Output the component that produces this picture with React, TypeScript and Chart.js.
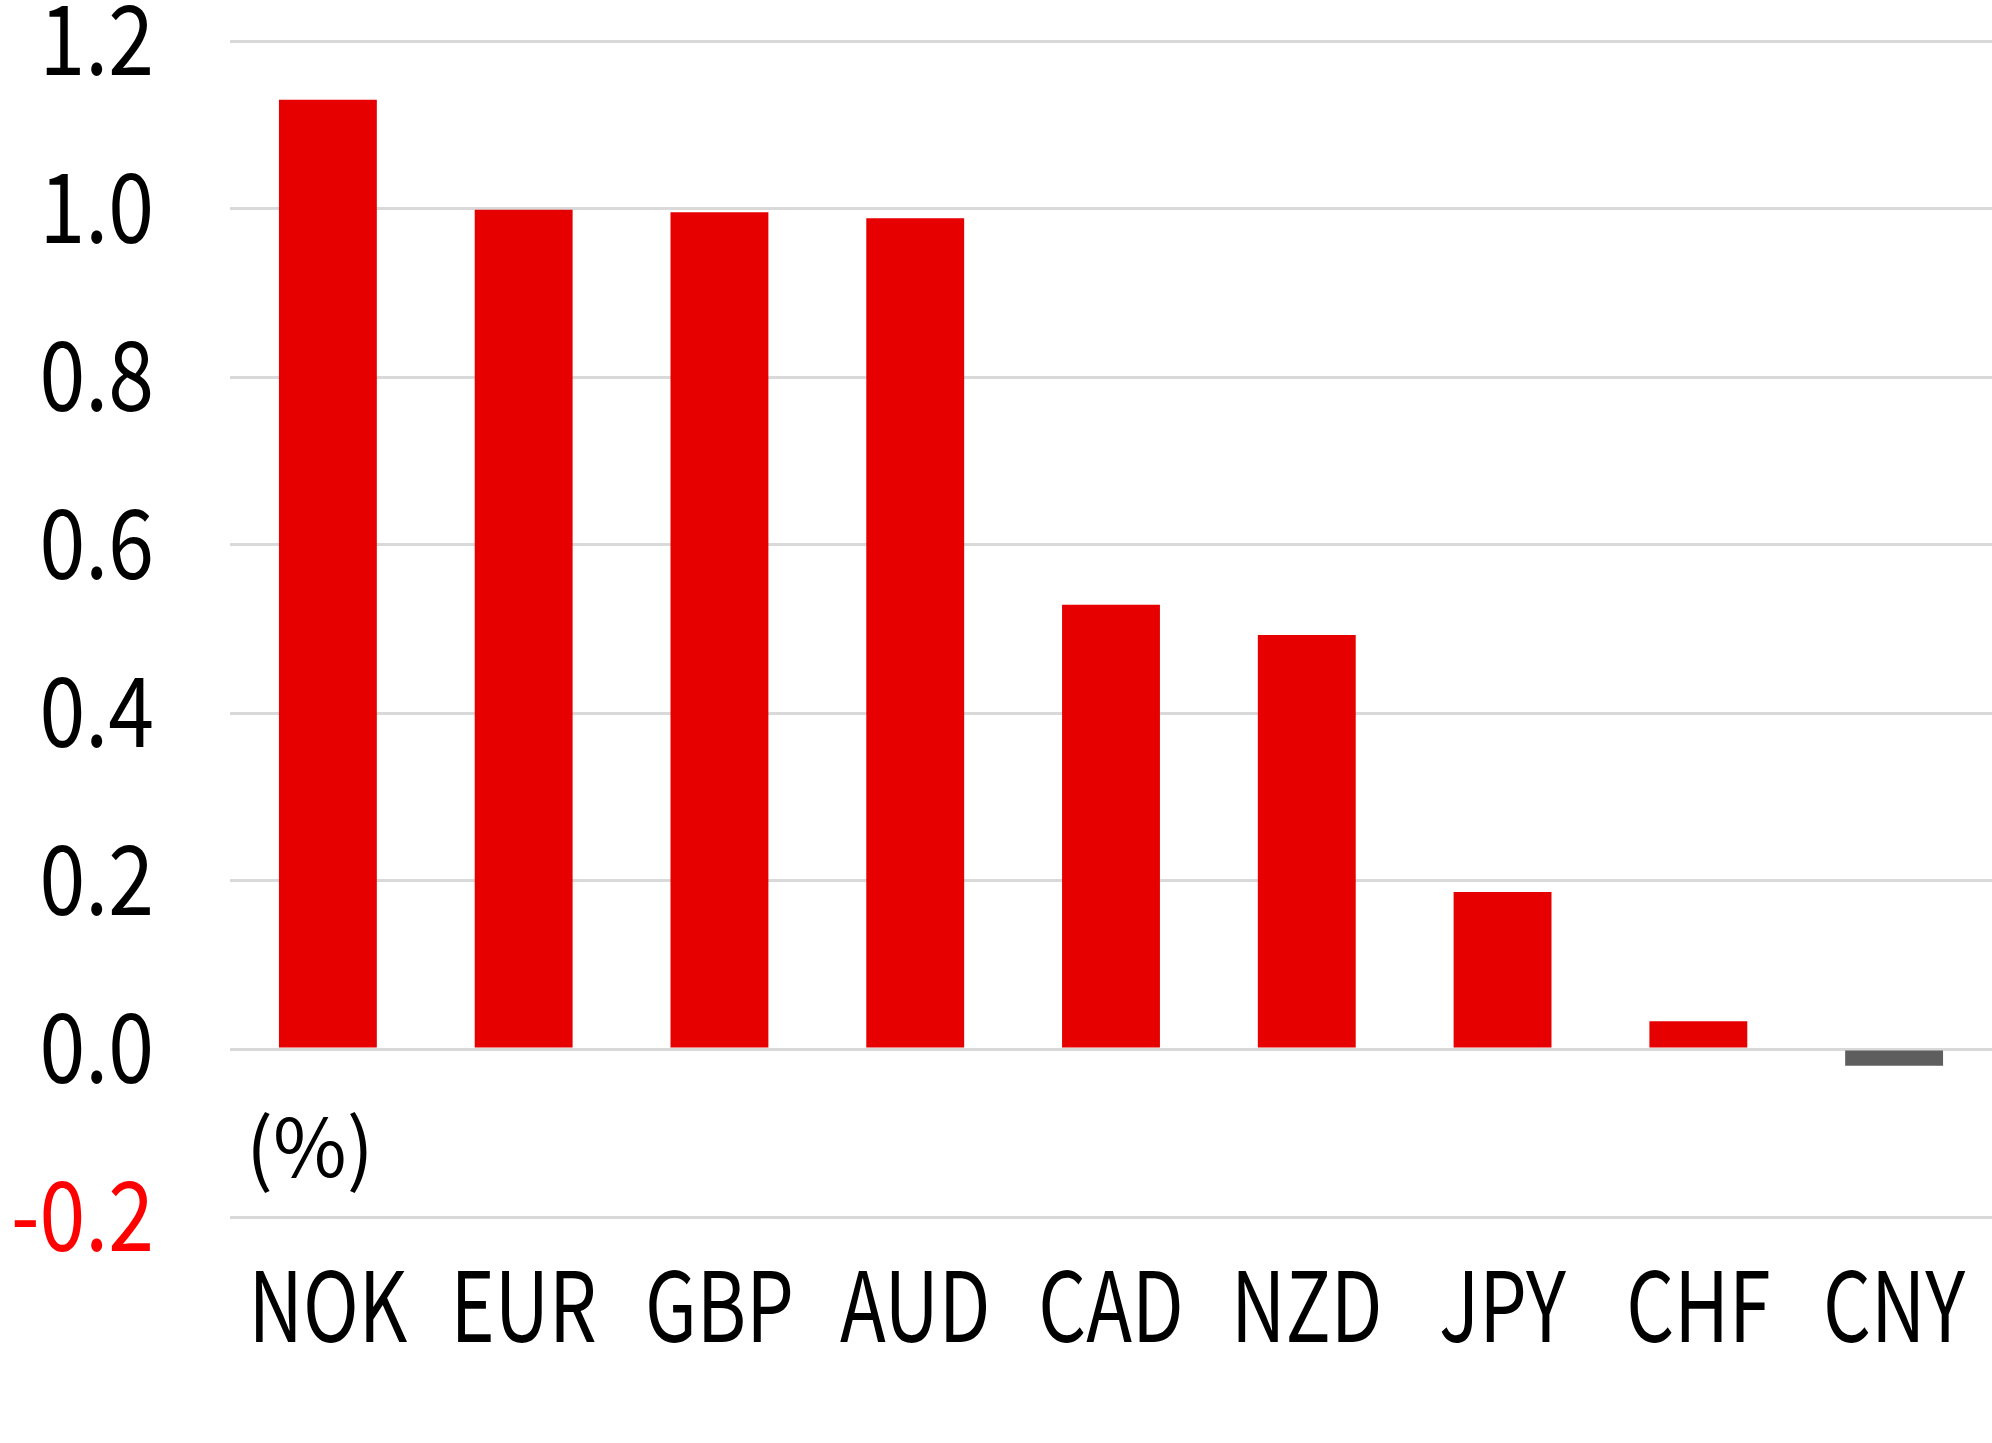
import React, { useEffect, useRef } from "react";
import { Chart, registerables } from "chart.js";

Chart.register(...registerables);

const categories = ["NOK", "EUR", "GBP", "AUD", "CAD", "NZD", "JPY", "CHF", "CNY"];
const values = [1.13, 0.999, 0.996, 0.989, 0.529, 0.493, 0.187, 0.033, -0.02];
const yTicks = [-0.2, 0.0, 0.2, 0.4, 0.6, 0.8, 1.0, 1.2];
const unitLabel = "(%)";

const FONT = "'Noto Sans CJK JP', 'Noto Sans', sans-serif";
const RED = "#E60000";
const GREY = "#5E5E5E";

// horizontal condensing and vertical nudge of tick labels per axis
const LABEL_STYLE: Record<string, { sx: number; dy: number }> = {
  x: { sx: 0.775, dy: 0 },
  y: { sx: 0.85, dy: -3 },
};

function condensedDrawLabels(this: any, chartArea: any) {
  const ctx = this.ctx;
  const st = LABEL_STYLE[this.id] || { sx: 1, dy: 0 };
  const items = this.getLabelItems(chartArea);
  for (const item of items) {
    const { label, font, options, textOffset } = item;
    ctx.save();
    ctx.translate(options.translation[0], options.translation[1] + st.dy);
    if (options.rotation) ctx.rotate(options.rotation);
    ctx.scale(st.sx, 1);
    ctx.font = font.string;
    ctx.fillStyle = options.color;
    ctx.textAlign = options.textAlign;
    ctx.textBaseline = options.textBaseline;
    const lines = Array.isArray(label) ? label : [label];
    let y = textOffset;
    for (const line of lines) {
      ctx.fillText(String(line), 0, y);
      y += font.lineHeight;
    }
    ctx.restore();
  }
}

const condensePlugin = {
  id: "condenseLabels",
  beforeDraw(chart: any) {
    for (const id of Object.keys(chart.scales)) {
      const s = chart.scales[id];
      if (!s.__condensed) {
        s.drawLabels = condensedDrawLabels;
        s.__condensed = true;
      }
    }
  },
};

const unitPlugin = {
  id: "unitLabel",
  afterDraw(chart: any) {
    const { ctx, chartArea } = chart;
    ctx.save();
    ctx.font = `400 80px ${FONT}`;
    ctx.fillStyle = "#000";
    ctx.textAlign = "left";
    ctx.textBaseline = "middle";
    ctx.fillText(unitLabel, chartArea.left + 16, 1147);
    ctx.restore();
  },
};

export default function App() {
  const ref = useRef<HTMLCanvasElement | null>(null);
  useEffect(() => {
    document.body.style.margin = "0";
    const canvas = ref.current!;
    const chart = new Chart(canvas, {
      type: "bar",
      data: {
        labels: categories,
        datasets: [
          {
            data: values,
            backgroundColor: values.map((v) => (v < 0 ? GREY : RED)),
            barPercentage: 0.5,
            categoryPercentage: 1,
            borderWidth: 0,
          },
        ],
      },
      options: {
        responsive: false,
        animation: false,
        devicePixelRatio: 1,
        layout: { padding: { top: 41, right: 0, bottom: 0, left: 0 } },
        plugins: { legend: { display: false }, tooltip: { enabled: false } },
        scales: {
          x: {
            grid: { display: false, drawTicks: false },
            border: { display: false },
            ticks: {
              color: "#000",
              padding: 30,
              font: { family: FONT, size: 97 },
              maxRotation: 0,
              autoSkip: false,
            },
            afterFit(scale: any) {
              scale.height = 226;
              scale.paddingLeft = 0;
              scale.paddingRight = 0;
            },
          },
          y: {
            min: -0.2,
            max: 1.2,
            afterBuildTicks(scale: any) {
              scale.ticks = yTicks.map((v) => ({ value: v }));
            },
            grid: { color: "#D9D9D9", lineWidth: 3, drawTicks: false },
            border: { display: false },
            ticks: {
              padding: 76,
              font: { family: FONT, size: 97 },
              color: (c: any) => (c.tick && c.tick.value < 0 ? "#FF0000" : "#000"),
              callback: (v: any) => Number(v).toFixed(1),
            },
            afterFit(scale: any) {
              scale.width = 230;
              scale.paddingTop = 0;
              scale.paddingBottom = 0;
            },
          },
        },
      },
      plugins: [condensePlugin, unitPlugin],
    });
    return () => chart.destroy();
  }, []);
  return (
    <div style={{ width: 1992, height: 1443 }}>
      <canvas ref={ref} width={1992} height={1443} style={{ display: "block" }} />
    </div>
  );
}
